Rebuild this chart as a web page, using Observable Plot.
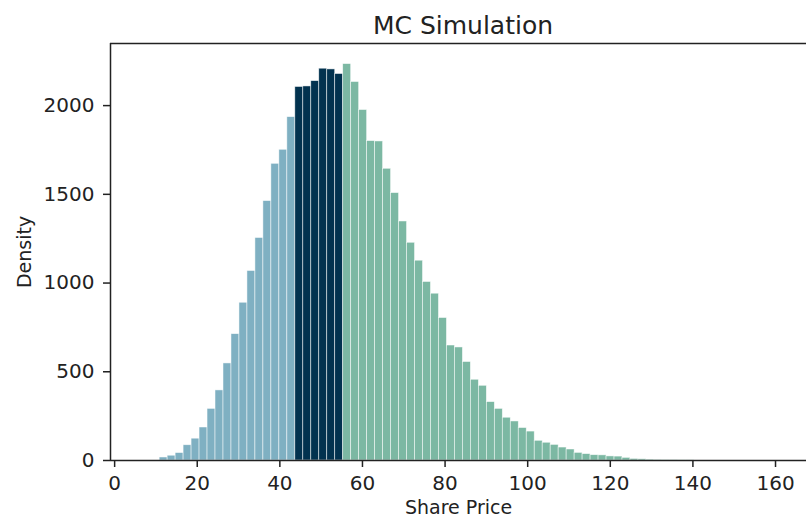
<!DOCTYPE html>
<html><head><meta charset="utf-8">
<script src="https://cdn.jsdelivr.net/npm/d3@7"></script>
<script src="https://cdn.jsdelivr.net/npm/@observablehq/plot@0.6"></script>
<style>html,body{margin:0;padding:0;background:#fff;overflow:hidden}</style>
</head><body><div id="chart"></div>
<script>
const title = "MC Simulation";
const xLabel = "Share Price";
const yLabel = "Density";
const binStart = 10.9;
const binWidth = 1.932;
const lowCounts = [17, 27, 42, 86, 123, 186, 291, 395, 547, 712, 889, 1068, 1254, 1462, 1672, 1751, 1935];
const midCounts = [2105, 2108, 2138, 2208, 2204, 2178];
const highCounts = [2234, 2133, 1975, 1800, 1798, 1644, 1507, 1347, 1227, 1126, 1006, 940, 803, 648, 637, 555, 455, 421, 329, 291, 241, 220, 183, 163, 111, 100, 88, 73, 62, 43, 36, 30, 29, 23, 22, 15, 9, 7, 5, 4, 3, 3, 2, 1];
const xTicks = [0, 20, 40, 60, 80, 100, 120, 140, 160];
const yTicks = [0, 500, 1000, 1500, 2000];
const xLimits = [-1, 167.5];
const yLimits = [0, 2350];
const groupNames = ["low", "mid", "high"];
const groupColors = ["#7fb0c2", "#02324f", "#7cb8a3"];

const bins = [];
let i = 0;
[lowCounts, midCounts, highCounts].forEach((counts, g) => {
  for (const c of counts) {
    bins.push({x1: binStart + i * binWidth, x2: binStart + (i + 1) * binWidth, count: c, group: groupNames[g]});
    i++;
  }
});

const ink = "#222";
const chart = Plot.plot({
  width: 806,
  height: 516,
  marginLeft: 110,
  marginRight: 0,
  marginTop: 43,
  marginBottom: 56,
  style: {fontFamily: "DejaVu Sans, sans-serif", fontSize: "20px", color: ink, background: "white", overflow: "visible"},
  x: {domain: xLimits},
  y: {domain: yLimits},
  color: {domain: groupNames, range: groupColors},
  marks: [
    Plot.rectY(bins, {x1: "x1", x2: "x2", y1: 0, y2: "count", fill: "group", stroke: "white", strokeWidth: 0.7, strokeOpacity: 0.7, inset: 0}),
    Plot.ruleX([xLimits[0]], {stroke: ink, strokeWidth: 1.5}),
    Plot.ruleY([yLimits[0], yLimits[1]], {stroke: ink, strokeWidth: 1.5}),
    Plot.axisX({ticks: xTicks, tickSize: 7, tickPadding: 8, strokeWidth: 1.5, stroke: ink, fill: ink, fontSize: 20, label: null, tickFormat: d => String(d)}),
    Plot.axisY({ticks: yTicks, tickSize: 7, tickPadding: 9, strokeWidth: 1.5, stroke: ink, fill: ink, fontSize: 20, label: null, tickFormat: d => String(d)}),
    Plot.text([title], {frameAnchor: "top", text: d => d, dx: 4.5, dy: -17.7, lineAnchor: "middle", fontSize: 25, fill: ink}),
    Plot.text([xLabel], {frameAnchor: "bottom", text: d => d, dy: 47, lineAnchor: "middle", fontSize: 19, fill: ink}),
    Plot.text([yLabel], {frameAnchor: "left", text: d => d, dx: -86, rotate: -90, lineAnchor: "middle", textAnchor: "middle", fontSize: 19, fill: ink})
  ]
});
document.getElementById("chart").appendChild(chart);
</script>
</body></html>
